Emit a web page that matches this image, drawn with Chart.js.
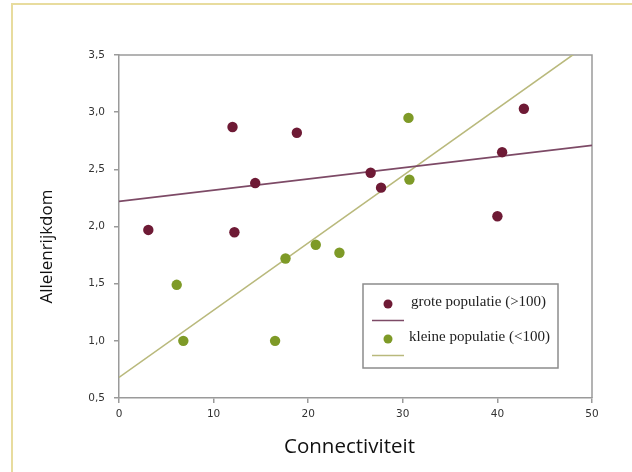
<!DOCTYPE html>
<html>
<head>
<meta charset="utf-8">
<script src="https://cdn.jsdelivr.net/npm/chart.js@4/dist/chart.umd.min.js"></script>
<style>
  html, body { margin: 0; padding: 0; background: #ffffff; }
  #wrap { position: relative; width: 632px; height: 472px; overflow: hidden; }
  #frame { position: absolute; left: 11px; top: 3px; right: -10px; bottom: -10px;
           border-left: 2px solid #e8dc9e; border-top: 2px solid #e8dc9e; }
  canvas { position: absolute; left: 0; top: 0; }
</style>
</head>
<body>
<div id="wrap">
  <div id="frame"></div>
  <canvas id="c" width="632" height="472"></canvas>
</div>
<script>
// ---- data ----
const grootX = [3.1, 12.0, 12.2, 14.4, 18.8, 26.6, 27.7, 40.0, 40.5, 42.8];
const grootY = [1.97, 2.87, 1.95, 2.38, 2.82, 2.47, 2.34, 2.09, 2.65, 3.03];
const kleinX = [6.1, 6.8, 16.5, 17.6, 20.8, 23.3, 30.6, 30.7];
const kleinY = [1.49, 1.00, 1.00, 1.72, 1.84, 1.77, 2.95, 2.41];
const grootTrendX = [0, 50];
const grootTrendY = [2.22, 2.71];
const kleinTrendX = [0, 50];
const kleinTrendY = [0.68, 3.62];
const legendLabels = ['grote populatie (>100)', 'kleine populatie (<100)'];
const xTitle = 'Connectiviteit';
const yTitle = 'Allelenrijkdom';

const RED = '#6e1a35';
const GREEN = '#7e9a27';
const RED_LINE = '#7d4a66';
const GREEN_LINE = '#b9b97c';
const AXIS = '#9a9a9a';

const pts = (xs, ys) => xs.map((x, i) => ({ x: x, y: ys[i] }));

const frameAndLegend = {
  id: 'frameAndLegend',
  beforeDatasetsDraw(chart) {
    const { ctx, chartArea: a } = chart;
    ctx.save();
    ctx.strokeStyle = AXIS;
    ctx.lineWidth = 1.5;
    ctx.beginPath();
    ctx.moveTo(a.left, a.top);
    ctx.lineTo(a.right, a.top);
    ctx.lineTo(a.right, a.bottom);
    ctx.stroke();
    ctx.restore();
  },
  afterDraw(chart) {
    const { ctx, chartArea: a } = chart;
    ctx.save();
    // axis titles
    ctx.fillStyle = '#111111';
    ctx.textAlign = 'center';
    ctx.textBaseline = 'middle';
    ctx.font = '20.5px "Open Sans"';
    ctx.fillText(xTitle, (a.left + a.right) / 2 - 6, a.bottom + 49);
    ctx.save();
    ctx.translate(a.left - 72, (a.top + a.bottom) / 2 + 20);
    ctx.rotate(-Math.PI / 2);
    ctx.font = '17px "Open Sans"';
    ctx.fillText(yTitle, 0, 0);
    ctx.restore();

    // legend
    const w = 195, h = 84;
    const bx = a.right - 34 - w, by = a.bottom - 30 - h;
    ctx.fillStyle = '#ffffff';
    ctx.fillRect(bx, by, w, h);
    ctx.strokeStyle = '#8c8c8c';
    ctx.lineWidth = 1.5;
    ctx.strokeRect(bx, by, w, h);
    const items = [
      { c: RED, l: RED_LINE, t: legendLabels[0], dx: 48 },
      { c: GREEN, l: GREEN_LINE, t: legendLabels[1], dx: 46 }
    ];
    items.forEach((it, i) => {
      const yDot = by + 20 + i * 35;
      ctx.fillStyle = it.c;
      ctx.beginPath();
      ctx.arc(bx + 25, yDot, 4.5, 0, Math.PI * 2);
      ctx.fill();
      ctx.strokeStyle = it.l;
      ctx.lineWidth = 1.5;
      ctx.beginPath();
      ctx.moveTo(bx + 9, yDot + 16.5);
      ctx.lineTo(bx + 41, yDot + 16.5);
      ctx.stroke();
      ctx.fillStyle = '#222222';
      ctx.font = '15px "Liberation Serif"';
      ctx.textBaseline = 'middle';
      ctx.textAlign = 'left';
      ctx.fillText(it.t, bx + it.dx, yDot - 2);
    });
    ctx.restore();
  }
};

new Chart(document.getElementById('c'), {
  type: 'scatter',
  data: {
    datasets: [
      { type: 'line', data: pts(grootTrendX, grootTrendY), borderColor: RED_LINE, borderWidth: 1.6,
        pointRadius: 0, fill: false, tension: 0, order: 3 },
      { type: 'line', data: pts(kleinTrendX, kleinTrendY), borderColor: GREEN_LINE, borderWidth: 1.6,
        pointRadius: 0, fill: false, tension: 0, order: 3 },
      { data: pts(grootX, grootY), backgroundColor: RED, borderColor: RED, pointRadius: 5.2, pointBorderWidth: 0, order: 1 },
      { data: pts(kleinX, kleinY), backgroundColor: GREEN, borderColor: GREEN, pointRadius: 5.2, pointBorderWidth: 0, order: 1 }
    ]
  },
  options: {
    responsive: false,
    animation: false,
    devicePixelRatio: 1,
    layout: { padding: { left: 37, top: 55, right: 40, bottom: 14 } },
    plugins: { legend: { display: false }, tooltip: { enabled: false } },
    scales: {
      x: {
        type: 'linear', min: 0, max: 50,
        ticks: { stepSize: 10, color: '#333333', font: { family: 'DejaVu Sans', size: 10.5 }, padding: 5, maxRotation: 0 },
        grid: { display: true, drawOnChartArea: false, drawTicks: true, tickLength: 5, color: AXIS, lineWidth: 1.5 },
        border: { display: true, color: AXIS, width: 1.5 },
        title: { display: false },
        afterFit(s) { s.height = 60; }
      },
      y: {
        type: 'linear', min: 0.5, max: 3.5,
        ticks: { stepSize: 0.5, color: '#333333', font: { family: 'DejaVu Sans', size: 10.5 }, padding: 9,
                 callback: v => v.toFixed(1).replace('.', ',') },
        grid: { display: true, drawOnChartArea: false, drawTicks: true, tickLength: 5, color: AXIS, lineWidth: 1.5 },
        border: { display: true, color: AXIS, width: 1.5 },
        title: { display: false },
        afterFit(s) { s.width = 82; }
      }
    }
  },
  plugins: [frameAndLegend]
});
</script>
</body>
</html>
